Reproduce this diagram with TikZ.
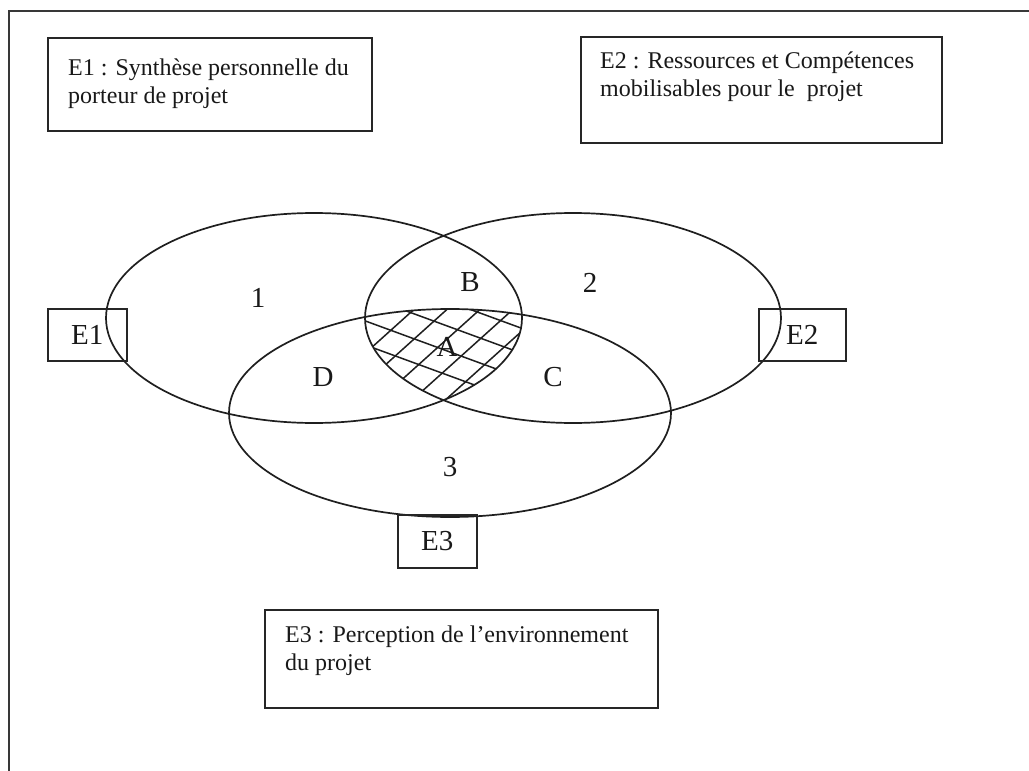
\documentclass[tikz,border=0pt]{standalone}
\usepackage{fontspec}
\setmainfont{Liberation Serif}
\begin{document}
\begin{tikzpicture}[x=1pt,y=-1pt,
  outline/.style={line width=1.7pt, draw=black!88},
  hatch/.style={line width=1.5pt, draw=black!88},
  txt/.style={font=\fontsize{24}{28}\selectfont, inner sep=0pt, anchor=base west, text=black!90},
  lbl/.style={font=\fontsize{29}{32}\selectfont, inner sep=0pt, text=black!90},
  boxnode/.style={draw=black!85, line width=1.6pt, inner sep=0pt, anchor=north west}
]
\useasboundingbox (0,0) rectangle (1029,771);
\fill[white] (0,0) rectangle (1029,771);
% frame
\coordinate (fb) at (9,771);
\coordinate (ftl) at (9,11);
\coordinate (fr) at (1029,11);
\draw[line width=2.2pt, black!78] (fb) -- (ftl) -- (fr);

% text boxes
\node[boxnode, minimum width=324pt, minimum height=93pt] (t1) at (47,37) {};
\node[txt] (t1a) at (68,75) {E1 : Synthèse personnelle du};
\node[txt] (t1b) at (68,103) {porteur de projet};

\node[boxnode, minimum width=361pt, minimum height=106pt] (t2) at (580,36) {};
\node[txt] (t2a) at (600,68) {E2 : Ressources et Compétences};
\node[txt] (t2b) at (600,96) {mobilisables pour le\ \ projet};

\node[boxnode, minimum width=393pt, minimum height=98pt] (t3) at (264,609) {};
\node[txt] (t3a) at (285,642) {E3 : Perception de l’environnement};
\node[txt] (t3b) at (285,670) {du projet};

% ellipses
\draw[outline] (314,318) ellipse [x radius=208, y radius=105];
\draw[outline] (573,318) ellipse [x radius=208, y radius=105];
\draw[outline] (450,413) ellipse [x radius=221, y radius=104];

% hatching of A
\begin{scope}
\clip (314,318) ellipse [x radius=208, y radius=105];
\clip (573,318) ellipse [x radius=208, y radius=105];
\clip (450,413) ellipse [x radius=221, y radius=104];
\foreach \c in {302,327,352,376}
  \draw[hatch] (300,\c-55) -- (600,\c+55);
\foreach \c in {380,413,446,479,512}
  \draw[hatch] (\c-100,430) -- (\c+100,250);
\end{scope}

% small boxes
\node[boxnode, minimum width=79pt, minimum height=52pt] (s1) at (47,308) {};
\node[lbl] (s1l) at (s1.center) {E1};
\node[boxnode, minimum width=87pt, minimum height=52pt] (s2) at (758,308) {};
\node[lbl] (s2l) at (s2.center) {E2};
\node[boxnode, minimum width=79pt, minimum height=53pt] (s3) at (397,514) {};
\node[lbl] (s3l) at (s3.center) {E3};

% region labels
\node[lbl] (l1) at (258,298) {1};
\node[lbl] (l2) at (590,283) {2};
\node[lbl] (lB) at (470,282) {B};
\node[lbl] (lA) at (447,347) {A};
\node[lbl] (lD) at (323,377) {D};
\node[lbl] (lC) at (553,377) {C};
\node[lbl] (l3) at (450,467) {3};
\end{tikzpicture}
\end{document}
